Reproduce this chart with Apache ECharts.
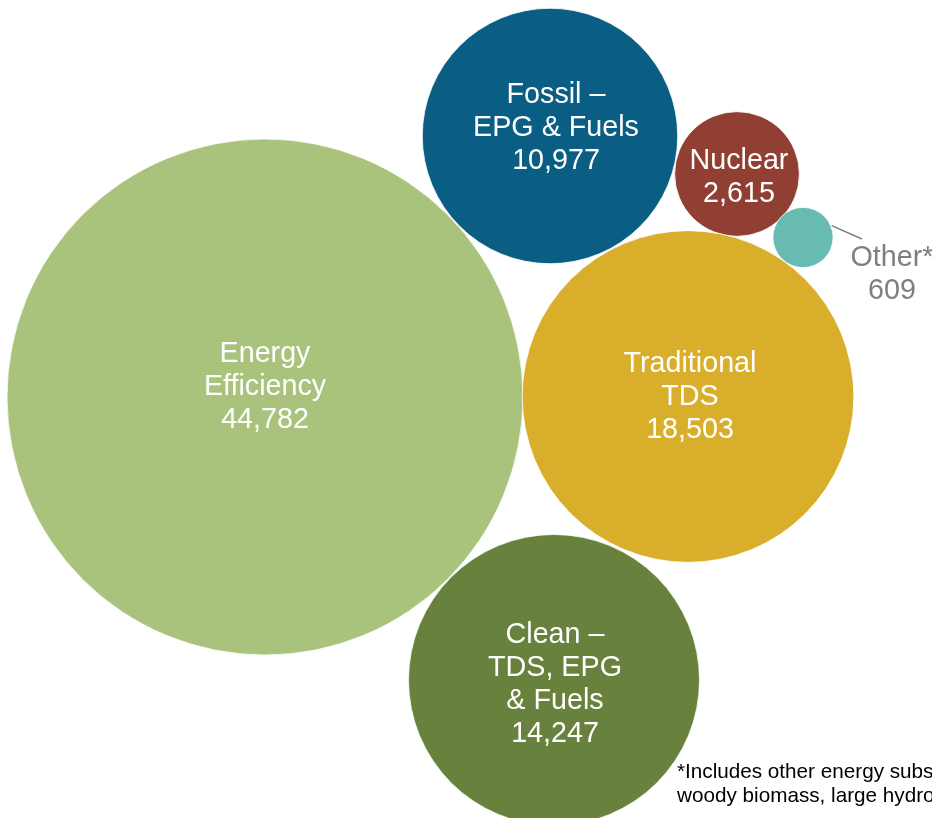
<!DOCTYPE html>
<html>
<head>
<meta charset="utf-8">
<script src="https://cdn.jsdelivr.net/npm/echarts@6/dist/echarts.min.js"></script>
<style>
  html, body { margin: 0; padding: 0; background: #ffffff; }
  #chart { width: 932px; height: 818px; }
</style>
</head>
<body>
<div id="chart"></div>
<script>
// ---- data ----
const categories = ["Energy\nEfficiency", "Fossil –\nEPG & Fuels", "Nuclear", "Other*", "Traditional\nTDS", "Clean –\nTDS, EPG\n& Fuels"];
const values = [44782, 10977, 2615, 609, 18503, 14247];
// bubble layout (centre of each bubble in the chart's layout units)
const layoutX = [265, 550, 737, 803, 688, 554];
const layoutY = [397, 136, 174, 237.5, 396.5, 680];
const footnoteLines = ["*Includes other energy subsectors such as", "woody biomass, large hydro, and others"];

// ---- styles ----
const colors = ["#a9c27c", "#0a5e84", "#923f33", "#67bbb0", "#d9ae2b", "#68813c"];
const labelOffsets = [[0, -10], [6, -8], [2, 4], [89, 37], [2, 1], [1, 5]];
const maxDiameter = 516;
const maxValue = Math.max.apply(null, values);
const fmt = v => v.toLocaleString("en-US");

const data = values.map((v, i) => {
  const isOther = categories[i] === "Other*";
  return {
    name: categories[i],
    value: [layoutX[i], layoutY[i], v],
    symbolSize: maxDiameter * Math.sqrt(v / maxValue),
    itemStyle: { color: colors[i] },
    label: {
      show: true,
      position: "inside",
      offset: labelOffsets[i],
      formatter: categories[i] + "\n" + fmt(v),
      color: isOther ? "#7f7f7f" : "#ffffff",
      fontFamily: "'Liberation Sans', Arial, sans-serif",
      fontSize: 28.7,
      lineHeight: 33,
      align: "center"
    }
  };
});

// leader line for "Other*" from bubble edge toward its label
const otherIdx = categories.indexOf("Other*");
const oR = maxDiameter * Math.sqrt(values[otherIdx] / maxValue) / 2;
const ang = Math.atan2(-12, 28);
const leaderStart = [layoutX[otherIdx] + oR * Math.cos(ang) + 1, layoutY[otherIdx] + oR * Math.sin(ang)];
const leaderEnd = [layoutX[otherIdx] + 59, layoutY[otherIdx] + 1.5];

const chart = echarts.init(document.getElementById("chart"), null, { renderer: "canvas" });
chart.setOption({
  animation: false,
  backgroundColor: "#ffffff",
  grid: { left: 0, right: 0, top: 0, bottom: 0 },
  xAxis: { type: "value", min: 0, max: 932, show: false },
  yAxis: { type: "value", min: 0, max: 818, inverse: true, show: false },
  series: [{
    type: "scatter",
    symbol: "circle",
    data: data,
    itemStyle: { borderColor: "rgba(255,255,255,0.8)", borderWidth: 1, opacity: 1 },
    emphasis: { disabled: true },
    markLine: {
      silent: true,
      symbol: ["none", "none"],
      label: { show: false },
      lineStyle: { color: "#7f7f7f", width: 1.5, type: "solid" },
      data: [[{ coord: leaderStart }, { coord: leaderEnd }]]
    }
  }],
  graphic: [{
    type: "text",
    left: 677,
    top: 760,
    silent: true,
    style: {
      text: footnoteLines.join("\n"),
      fill: "#000000",
      font: "20.7px 'Liberation Sans', Arial, sans-serif",
      lineHeight: 24
    }
  }]
});
</script>
</body>
</html>
